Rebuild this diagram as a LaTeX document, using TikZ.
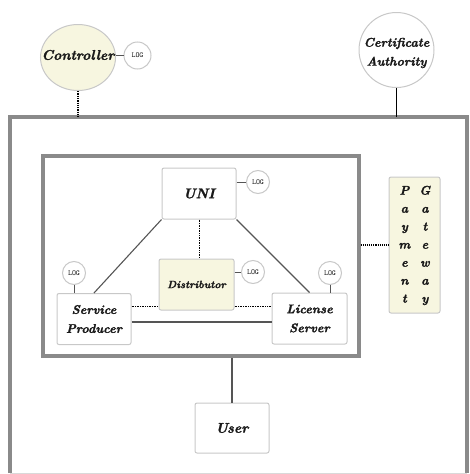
\documentclass[tikz,border=0pt]{standalone}
\usepackage{fontspec}
\newfontfamily\lblfont{lmroman10-bolditalic.otf}[FakeBold=1.6]
\usetikzlibrary{positioning,calc,shapes.geometric}

\definecolor{paleyellow}{HTML}{F7F6E0}
\definecolor{framegray}{HTML}{8A8A8A}
\definecolor{boxgray}{HTML}{C8C8C8}
\definecolor{linegray}{HTML}{555555}

\newcommand{\lbl}[2]{\lblfont\fontsize{#1}{#2}\selectfont}

\begin{document}
\begin{tikzpicture}[
  x=1pt, y=-1pt,
  every node/.style={font=\lblfont, text=black!90},
  unitbox/.style={draw=boxgray, line width=1pt, rounded corners=2pt,
              fill=white, minimum width=74pt, minimum height=51pt,
              align=center, inner sep=1pt},
  yellowbox/.style={unitbox, fill=paleyellow},
  logcircle/.style={draw=boxgray, line width=1pt, circle, fill=white,
              minimum size=23pt, inner sep=0pt,
              font=\ttfamily\fontsize{7.5}{8}\selectfont},
  partycircle/.style={draw=boxgray, line width=1pt, circle,
              minimum size=75pt, inner sep=0pt},
  frame/.style={draw=framegray, line width=3.5pt},
  solidlink/.style={draw=linegray, line width=1.1pt},
  dottedlink/.style={draw=black, densely dotted, line width=0.9pt},
]
  \useasboundingbox (0,0) rectangle (469,474);

  % outside parties
  \node[partycircle, fill=paleyellow, ellipse, minimum width=75pt,
    minimum height=66pt,
    label={[font=\lbl{14}{16}, yshift=2.5pt]center:Controller}]
    (ctrl) at (78, 57.5) {};
  \node[logcircle, minimum size=27pt] (ctrllog) at (137.5, 55.5) {LOG};
  \node[partycircle, fill=white,
    label={[font=\lbl{12.5}{19}, align=center, yshift=-3pt]center:Certificate\\Authority}]
    (ca) at (396.5, 50) {};

  % system frame
  \node[minimum width=457pt, minimum height=356pt] (outer) at (238.5, 295) {};
  \draw[frame] (outer.south west) -- (outer.north west)
    -- (outer.north east) -- (outer.south east);
  \draw[gray!30, line width=0.6pt] (outer.south west) -- (outer.south east);

  \node[draw=framegray, line width=3.5pt, minimum width=316pt,
    minimum height=200pt] (core) at (201, 256) {};

  % units inside the core
  \node[unitbox, font=\lbl{14}{16}] (uni) at (199, 193.5) {UNI};
  \node[logcircle] (unilog) at (258, 182) {LOG};
  \node[yellowbox, minimum width=75pt, font=\lbl{10.5}{12}]
    (dist) at (196.5, 284.5) {Distributor};
  \node[logcircle] (distlog) at (253, 272) {LOG};
  \node[unitbox, font=\lbl{12.5}{19}]
    (sp) at (94, 319) {Service\\Producer};
  \node[logcircle] (splog) at (74, 273) {LOG};
  \node[unitbox, minimum width=75pt, font=\lbl{12.5}{19}]
    (ls) at (309.5, 318.5) {License\\Server};
  \node[logcircle] (lslog) at (330, 273) {LOG};

  % payment gateway and user
  \node[yellowbox, minimum width=51pt, minimum height=136pt,
    font=\lbl{12.5}{18}]
    (pay) at (414.5, 245)
    {\begin{tabular}{@{}c@{\hspace{9pt}}c@{}}
      P & G\\ a & a\\ y & t\\ m & e\\ e & w\\ n & a\\ t & y
    \end{tabular}};
  \node[unitbox, minimum height=50pt, font=\lbl{14}{16}]
    (user) at (232, 428) {User};

  % links
  \draw[linegray, line width=0.8pt] (ctrl.east |- ctrllog) -- (ctrllog);
  \draw[dottedlink, line width=1.3pt] (ctrl.south) -- (ctrl.south |- outer.north);
  \draw[black, line width=1.3pt] (ca.south) -- (ca.south |- outer.north);

  \draw[linegray, line width=0.8pt] (uni.east |- unilog) -- (unilog);
  \draw[linegray, line width=0.8pt] (dist.east |- distlog) -- (distlog);
  \draw[linegray, line width=0.8pt] (splog) -- (splog |- sp.north);
  \draw[linegray, line width=0.8pt] (lslog) -- (lslog |- ls.north);

  \draw[solidlink] (uni.south west) -- (sp.north);
  \draw[solidlink] (uni.south east) -- (ls.north);
  \draw[solidlink] ($(sp.east)+(0,3)$) -- ($(ls.west)+(0,3.5)$);
  \draw[dottedlink, line width=0.7pt] (uni.south) -- (uni.south |- dist.north);
  \draw[dottedlink, line width=0.7pt] ($(sp.east)+(0,-13)$) -- (dist.west |- {$(sp.east)+(0,-13)$});
  \draw[dottedlink, line width=0.7pt] (dist.east |- {$(sp.east)+(0,-13)$}) -- ($(ls.west)+(0,-12.5)$);
  \draw[dottedlink, line width=1.1pt] (core.east |- pay) -- (pay.west);
  \draw[solidlink] (user.north |- core.south) -- (user.north);
\end{tikzpicture}
\end{document}
